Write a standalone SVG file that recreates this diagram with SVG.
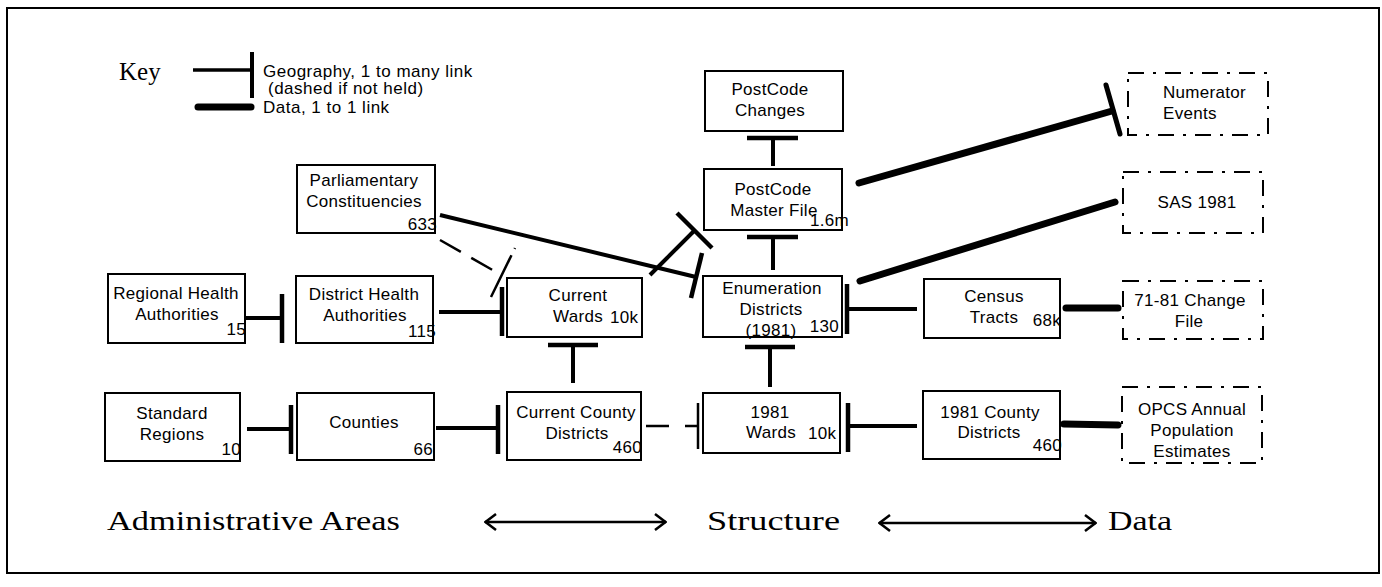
<svg xmlns="http://www.w3.org/2000/svg" width="1382" height="587" viewBox="0 0 1382 587">
<style>
.box{fill:#fff;stroke:#000;stroke-width:2}
.dbox{fill:#fff;stroke:#000;stroke-width:2;stroke-dasharray:16 9 3 9}
.t{font-family:"Liberation Sans",Arial,sans-serif;font-size:17px;fill:#000;letter-spacing:0.3px}
.c{text-anchor:middle}
.e{text-anchor:end}
.k{font-family:"Liberation Sans",Arial,sans-serif;font-size:17px;fill:#000;letter-spacing:0.5px}
.s{font-family:"Liberation Serif","Times New Roman",serif;fill:#000}
.geo{stroke:#000;stroke-width:4;fill:none}
.bar{stroke:#000;stroke-width:4.5;fill:none}
.data{stroke:#000;stroke-width:7;stroke-linecap:round;fill:none}
.thin{stroke:#000;stroke-width:2.5;fill:none}
</style>
<defs>
<marker id="ah" viewBox="0 0 14 20" refX="13" refY="10" markerWidth="14" markerHeight="20" markerUnits="userSpaceOnUse" orient="auto-start-reverse">
<path d="M2,2 L12.5,10 L2,18" fill="none" stroke="#000" stroke-width="2.5"/>
</marker>
</defs>
<rect x="0" y="0" width="1382" height="587" fill="#fff"/>
<rect x="7" y="8" width="1372" height="565" fill="none" stroke="#000" stroke-width="2"/>

<g id="key">
<text class="s" x="119" y="80" font-size="25">Key</text>
<line x1="193" y1="70" x2="251" y2="70" stroke="#000" stroke-width="3.5"/>
<line x1="252" y1="52" x2="252" y2="98" stroke="#000" stroke-width="4"/>
<text class="k" x="263" y="77">Geography, 1 to many link</text>
<text class="k" x="268" y="94">(dashed if not held)</text>
<line x1="198" y1="107" x2="251" y2="107" stroke="#000" stroke-width="7" stroke-linecap="round"/>
<text class="k" x="263" y="113">Data, 1 to 1 link</text>
</g>

<g id="connectors">
<line class="geo" x1="244" y1="318" x2="282" y2="318"/><line class="bar" x1="282" y1="294" x2="282" y2="343"/>
<line class="geo" x1="439" y1="312" x2="502" y2="312"/><line class="bar" x1="502" y1="287" x2="502" y2="336"/>
<line class="geo" x1="247" y1="429" x2="291" y2="429"/><line class="bar" x1="291" y1="405" x2="291" y2="454"/>
<line class="geo" x1="436" y1="428" x2="498" y2="428"/><line class="bar" x1="498" y1="405" x2="498" y2="454"/>
<line class="geo" x1="573" y1="345" x2="573" y2="383"/><line class="bar" x1="548" y1="345" x2="598" y2="345"/>
<line class="geo" x1="770" y1="347" x2="770" y2="387"/><line class="bar" x1="745" y1="347" x2="795" y2="347"/>
<line class="geo" x1="773" y1="138" x2="773" y2="166"/><line class="bar" x1="747" y1="138" x2="798" y2="138"/>
<line class="geo" x1="773" y1="237" x2="773" y2="270"/><line class="bar" x1="747" y1="237" x2="798" y2="237"/>
<line class="geo" x1="847" y1="309" x2="917" y2="309"/><line class="bar" x1="847" y1="284" x2="847" y2="334"/>
<line class="geo" x1="848" y1="426" x2="917" y2="426"/><line class="bar" x1="848" y1="403" x2="848" y2="452"/>
<line class="geo" x1="440" y1="215" x2="696" y2="277" stroke-width="3.5"/><line class="bar" x1="702" y1="253" x2="691" y2="298"/>
<line class="geo" x1="650" y1="275" x2="694" y2="231"/><line class="bar" x1="677" y1="213" x2="712" y2="248"/>
<line class="thin" x1="440" y1="240" x2="496" y2="272" stroke-dasharray="24 12"/>
<line class="thin" x1="515" y1="248" x2="491" y2="297" stroke-width="2" stroke-dasharray="1 7 60"/>
<line class="thin" x1="646" y1="426" x2="698" y2="426" stroke-dasharray="23 16"/>
<line class="thin" x1="698" y1="403" x2="698" y2="449"/>
<line class="data" x1="1066" y1="308" x2="1118" y2="308"/>
<line class="data" x1="1064" y1="424" x2="1118" y2="425"/>
<line class="data" x1="859" y1="183" x2="1112" y2="111"/>
<line x1="1106" y1="85" x2="1120" y2="134" stroke="#000" stroke-width="5" stroke-linecap="round"/>
<line class="data" x1="860" y1="281" x2="1115" y2="202"/>
</g>

<g id="parliamentary">
<rect class="box" x="297" y="165" width="138" height="68"/>
<text class="t c" x="364" y="186">Parliamentary</text>
<text class="t c" x="364" y="207">Constituencies</text>
<text class="t e" x="437" y="230">633</text>
</g>
<g id="rha">
<rect class="box" x="108" y="274" width="137" height="69"/>
<text class="t c" x="176" y="299">Regional Health</text>
<text class="t c" x="177" y="320">Authorities</text>
<text class="t e" x="246" y="335">15</text>
</g>
<g id="dha">
<rect class="box" x="296" y="276" width="137" height="67"/>
<text class="t c" x="364" y="300">District Health</text>
<text class="t c" x="365" y="321">Authorities</text>
<text class="t e" x="436" y="337">115</text>
</g>
<g id="standard-regions">
<rect class="box" x="105" y="393" width="135" height="68"/>
<text class="t c" x="172" y="419">Standard</text>
<text class="t c" x="172" y="440">Regions</text>
<text class="t e" x="241" y="455">10</text>
</g>
<g id="counties">
<rect class="box" x="297" y="393" width="137" height="67"/>
<text class="t c" x="364" y="428">Counties</text>
<text class="t e" x="433" y="455">66</text>
</g>
<g id="current-wards">
<rect class="box" x="507" y="278" width="135" height="59"/>
<text class="t c" x="578" y="301">Current</text>
<text class="t" x="553" y="322">Wards</text>
<text class="t" x="610" y="323">10k</text>
</g>
<g id="current-county-districts">
<rect class="box" x="507" y="392" width="134" height="68"/>
<text class="t c" x="576" y="418">Current County</text>
<text class="t c" x="577" y="439">Districts</text>
<text class="t e" x="642" y="453">460</text>
</g>
<g id="postcode-changes">
<rect class="box" x="705" y="71" width="138" height="60"/>
<text class="t c" x="770" y="95">PostCode</text>
<text class="t c" x="770" y="116">Changes</text>
</g>
<g id="postcode-master">
<rect class="box" x="704" y="169" width="138" height="61"/>
<text class="t c" x="773" y="195">PostCode</text>
<text class="t c" x="774" y="216">Master File</text>
<text class="t e" x="849" y="226">1.6m</text>
</g>
<g id="enumeration-districts">
<rect class="box" x="703" y="276" width="139" height="61"/>
<text class="t c" x="772" y="294">Enumeration</text>
<text class="t c" x="771" y="315">Districts</text>
<text class="t c" x="771" y="336">(1981)</text>
<text class="t e" x="839" y="332">130</text>
</g>
<g id="wards-1981">
<rect class="box" x="703" y="393" width="137" height="60"/>
<text class="t c" x="770" y="418">1981</text>
<text class="t c" x="771" y="438">Wards</text>
<text class="t" x="808" y="439">10k</text>
</g>
<g id="census-tracts">
<rect class="box" x="924" y="279" width="136" height="59"/>
<text class="t c" x="994" y="302">Census</text>
<text class="t c" x="994" y="323">Tracts</text>
<text class="t e" x="1061" y="326">68k</text>
</g>
<g id="county-districts-1981">
<rect class="box" x="923" y="391" width="137" height="68"/>
<text class="t c" x="990" y="418">1981 County</text>
<text class="t c" x="989" y="438">Districts</text>
<text class="t e" x="1062" y="451">460</text>
</g>
<g id="numerator-events">
<rect class="dbox" x="1128" y="73" width="140" height="62"/>
<text class="t" x="1163" y="98">Numerator</text>
<text class="t" x="1163" y="119">Events</text>
</g>
<g id="sas-1981">
<rect class="dbox" x="1123" y="172" width="140" height="61"/>
<text class="t c" x="1197" y="208">SAS 1981</text>
</g>
<g id="change-file">
<rect class="dbox" x="1123" y="281" width="140" height="58"/>
<text class="t c" x="1190" y="306">71-81 Change</text>
<text class="t c" x="1189" y="327">File</text>
</g>
<g id="opcs">
<rect class="dbox" x="1122" y="387" width="140" height="76"/>
<text class="t c" x="1192" y="415">OPCS Annual</text>
<text class="t c" x="1192" y="436">Population</text>
<text class="t c" x="1192" y="457">Estimates</text>
</g>

<g id="footer">
<text class="s" x="107" y="530" font-size="28" textLength="293" lengthAdjust="spacingAndGlyphs">Administrative Areas</text>
<line x1="485" y1="522" x2="666" y2="522" stroke="#000" stroke-width="2.5" marker-start="url(#ah)" marker-end="url(#ah)"/>
<text class="s" x="707" y="530" font-size="28" textLength="133" lengthAdjust="spacingAndGlyphs">Structure</text>
<line x1="879" y1="523" x2="1096" y2="523" stroke="#000" stroke-width="2.5" marker-start="url(#ah)" marker-end="url(#ah)"/>
<text class="s" x="1108" y="530" font-size="28" textLength="64" lengthAdjust="spacingAndGlyphs">Data</text>
</g>
</svg>
